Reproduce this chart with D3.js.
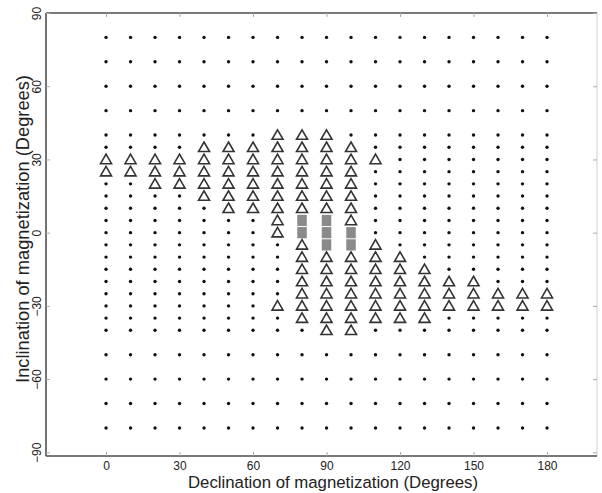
<!DOCTYPE html>
<html>
<head>
<meta charset="utf-8">
<script src="https://cdn.jsdelivr.net/npm/d3@7"></script>
<style>
  html, body { margin: 0; padding: 0; background: #fff; }
  svg { display: block; font-family: "Liberation Sans", Arial, sans-serif; }
</style>
</head>
<body>
<svg id="chart" width="602" height="493"></svg>
<script>
// Grid of tested magnetization directions
const declinations = d3.range(0, 181, 10);
const inclinations = [80, 70, 60, 50, 40, 35, 30, 25, 20, 15, 10, 5, 0,
  -5, -10, -15, -20, -25, -30, -35, -40, -50, -60, -70, -80];

// Directions marked with a triangle: [declination, inclinations]
const triangleCols = [
  [0,   [30, 25]],
  [10,  [30, 25]],
  [20,  [30, 25, 20]],
  [30,  [30, 25, 20]],
  [40,  [35, 30, 25, 20, 15]],
  [50,  [35, 30, 25, 20, 15, 10]],
  [60,  [35, 30, 25, 20, 15, 10]],
  [70,  [40, 35, 30, 25, 20, 15, 10, 5, 0, -30]],
  [80,  [40, 35, 30, 25, 20, 15, 10, -5, -10, -15, -20, -25, -30, -35]],
  [90,  [40, 35, 30, 25, 20, 15, 10, -10, -15, -20, -25, -30, -35, -40]],
  [100, [35, 30, 25, 20, 15, 10, 5, -10, -15, -20, -25, -30, -35, -40]],
  [110, [30, -5, -10, -15, -20, -25, -30, -35]],
  [120, [-10, -15, -20, -25, -30, -35]],
  [130, [-15, -20, -25, -30, -35]],
  [140, [-20, -25, -30]],
  [150, [-20, -25, -30]],
  [160, [-25, -30]],
  [170, [-25, -30]],
  [180, [-25, -30]]
];

// Directions marked with a grey square: [declination, inclinations]
const squareCols = [
  [80,  [5, 0]],
  [90,  [5, 0, -5]],
  [100, [0, -5]]
];

const xTicks = [0, 30, 60, 90, 120, 150, 180];
const yTicks = [-90, -60, -30, 0, 30, 60, 90];

const svg = d3.select("#chart");
const plotL = 46, plotR = 597, plotT = 13, plotB = 456;

const x = d3.scaleLinear().domain([-24.5, 200.4]).range([plotL, plotR]);
const y = d3.scaleLinear().domain([-91.5, 90]).range([plotB, plotT]);

const flatten = cols => cols.flatMap(([d, incs]) => incs.map(i => ({ d, i })));
const triangles = flatten(triangleCols);
const squares = flatten(squareCols);
const key = p => p.d + "|" + p.i;
const marked = new Set([...triangles, ...squares].map(key));

const dots = [];
declinations.forEach(d => inclinations.forEach(i => {
  if (!marked.has(key({ d, i }))) dots.push({ d, i });
}));

// Frame
svg.append("rect")
  .attr("x", plotL).attr("y", plotT)
  .attr("width", plotR - plotL).attr("height", plotB - plotT)
  .attr("fill", "none").attr("stroke", "#cfcfcf").attr("stroke-width", 1);
svg.append("line").attr("x1", plotL).attr("x2", plotR).attr("y1", plotT).attr("y2", plotT)
  .attr("stroke", "#555").attr("stroke-width", 1.6);
svg.append("line").attr("x1", plotL).attr("x2", plotR).attr("y1", plotB).attr("y2", plotB)
  .attr("stroke", "#555").attr("stroke-width", 1.6);
svg.append("line").attr("x1", plotL).attr("x2", plotL).attr("y1", plotT).attr("y2", plotB)
  .attr("stroke", "#555").attr("stroke-width", 1.6);

// Axes with inward ticks
const tickColor = "#aaa";
const xb = svg.append("g").attr("transform", `translate(0,${plotB})`)
  .call(d3.axisBottom(x).tickValues(xTicks).tickSize(-4).tickPadding(5.5));
const xt = svg.append("g").attr("transform", `translate(0,${plotT})`)
  .call(d3.axisTop(x).tickValues(xTicks).tickSize(-4).tickFormat(""));
const yl = svg.append("g").attr("transform", `translate(${plotL},0)`)
  .call(d3.axisLeft(y).tickValues(yTicks).tickSize(-4));
const yr = svg.append("g").attr("transform", `translate(${plotR},0)`)
  .call(d3.axisRight(y).tickValues(yTicks).tickSize(-4).tickFormat(""));
[xb, xt, yl, yr].forEach(g => {
  g.select(".domain").remove();
  g.selectAll(".tick line").attr("stroke", tickColor).attr("stroke-width", 1);
});
xb.selectAll(".tick text")
  .attr("font-size", 12).attr("fill", "#222")
  .attr("font-family", "Liberation Sans, Arial, sans-serif");
yl.selectAll(".tick text")
  .attr("font-size", 12).attr("fill", "#222")
  .attr("font-family", "Liberation Sans, Arial, sans-serif")
  .attr("text-anchor", "middle").attr("dy", null)
  .attr("x", 0).attr("y", 0)
  .attr("transform", `translate(-5,0) rotate(-90)`);

// Axis titles
svg.append("text")
  .attr("x", 333).attr("y", 488)
  .attr("text-anchor", "middle")
  .attr("font-size", 16.8).attr("fill", "#222")
  .text("Declination of magnetization (Degrees)");
svg.append("text")
  .attr("transform", `translate(29,229) rotate(-90)`)
  .attr("text-anchor", "middle")
  .attr("font-size", 18.3).attr("fill", "#222")
  .text("Inclination of magnetization (Degrees)");

// Grid points
svg.append("g").selectAll("circle").data(dots).join("circle")
  .attr("cx", p => x(p.d)).attr("cy", p => y(p.i))
  .attr("r", 1.7).attr("fill", "#111");

// Grey squares
const sqW = 9.5, sqH = y(0) - y(5) - 1;
svg.append("g").selectAll("rect").data(squares).join("rect")
  .attr("x", p => x(p.d) - sqW / 2).attr("y", p => y(p.i) - sqH / 2)
  .attr("width", sqW).attr("height", sqH)
  .attr("fill", "#8a8a8a");

// Triangles
const tw = 11, th = 9.5;
svg.append("g").selectAll("path").data(triangles).join("path")
  .attr("d", p => {
    const cx = x(p.d), cy = y(p.i);
    return `M${cx},${cy - th / 2 - 0.5}L${cx + tw / 2},${cy + th / 2 - 0.5}L${cx - tw / 2},${cy + th / 2 - 0.5}Z`;
  })
  .attr("fill", "none").attr("stroke", "#333").attr("stroke-width", 1.6)
  .attr("stroke-linejoin", "miter");
</script>
</body>
</html>
